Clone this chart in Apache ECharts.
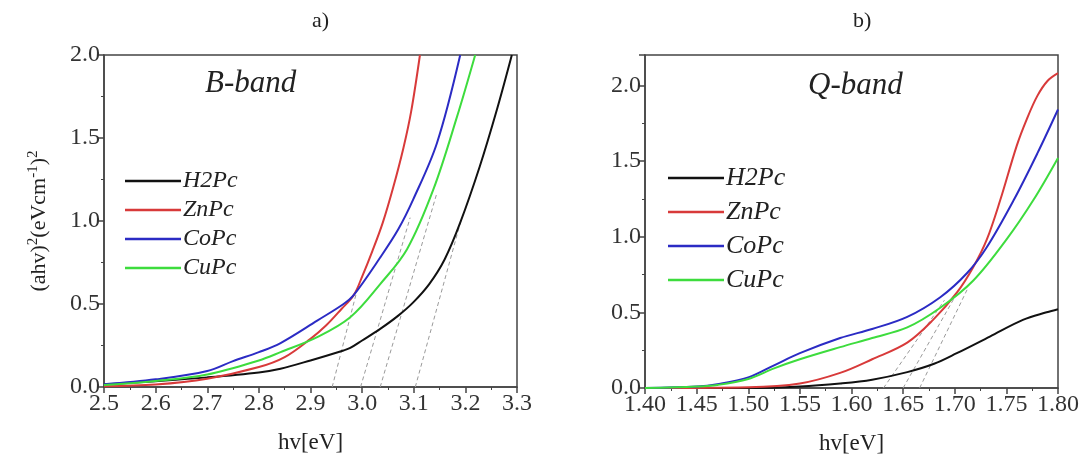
<!DOCTYPE html>
<html>
<head>
<meta charset="utf-8">
<script src="https://cdn.jsdelivr.net/npm/echarts@6/dist/echarts.min.js"></script>
<style>
  html, body { margin: 0; padding: 0; background: #fff; }
  #chart { width: 1083px; height: 461px; }
</style>
</head>
<body>
<div id="chart"></div>
<script>
// panel a) B-band  [hv, (ahv)^2]
var h2pcB = [[2.5,0.015],[2.6,0.035],[2.7,0.058],[2.8,0.088],[2.842,0.11],[2.9,0.16],[2.964,0.22],[2.977,0.235],[3.0,0.28],[3.035,0.35],[3.07,0.43],[3.099,0.51],[3.13,0.62],[3.16,0.77],[3.19,0.99],[3.228,1.33],[3.261,1.67],[3.29,2.0]];
var znpcB = [[2.5,0.005],[2.6,0.015],[2.7,0.05],[2.8,0.12],[2.85,0.18],[2.9,0.29],[2.93,0.37],[2.96,0.47],[2.984,0.555],[3.0,0.665],[3.02,0.82],[3.04,0.99],[3.06,1.2],[3.08,1.44],[3.095,1.66],[3.112,2.0]];
var copcB = [[2.5,0.016],[2.6,0.046],[2.7,0.096],[2.75,0.156],[2.8,0.21],[2.842,0.265],[2.913,0.4],[2.964,0.5],[2.984,0.555],[3.035,0.78],[3.07,0.95],[3.099,1.13],[3.145,1.47],[3.19,2.0]];
var cupcB = [[2.5,0.012],[2.6,0.036],[2.7,0.075],[2.8,0.16],[2.842,0.21],[2.913,0.3],[2.977,0.42],[3.035,0.62],[3.087,0.83],[3.138,1.19],[3.184,1.63],[3.219,2.0]];
var tangentsB = [
  [[2.942,0],[2.99,0.58]],
  [[2.997,0],[3.093,1.02]],
  [[3.035,0],[3.145,1.17]],
  [[3.103,0],[3.193,1.02]]
];

// panel b) Q-band
var h2pcQ = [[1.40,0],[1.50,0.0],[1.55,0.01],[1.589,0.03],[1.62,0.055],[1.654,0.105],[1.68,0.16],[1.702,0.23],[1.734,0.34],[1.766,0.45],[1.789,0.5],[1.80,0.52]];
var znpcQ = [[1.40,0],[1.50,0.005],[1.55,0.03],[1.589,0.1],[1.62,0.19],[1.654,0.3],[1.679,0.45],[1.702,0.63],[1.718,0.8],[1.731,0.98],[1.744,1.24],[1.76,1.6],[1.77,1.78],[1.78,1.93],[1.79,2.03],[1.80,2.08]];
var copcQ = [[1.40,0],[1.45,0.01],[1.47,0.025],[1.50,0.07],[1.525,0.15],[1.55,0.23],[1.589,0.33],[1.62,0.39],[1.654,0.47],[1.686,0.6],[1.712,0.76],[1.731,0.93],[1.757,1.24],[1.78,1.55],[1.80,1.84]];
var cupcQ = [[1.40,0],[1.45,0.01],[1.47,0.02],[1.50,0.06],[1.525,0.13],[1.55,0.19],[1.589,0.27],[1.62,0.33],[1.654,0.4],[1.686,0.53],[1.718,0.71],[1.75,0.98],[1.776,1.24],[1.80,1.52]];
var tangentsQ = [
  [[1.631,0],[1.69,0.58]],
  [[1.650,0],[1.70,0.6]],
  [[1.666,0],[1.712,0.65]]
];

var names = ['H2Pc', 'ZnPc', 'CoPc', 'CuPc'];
var colors = ['#111111', '#d83a3a', '#2b2bc4', '#3ddc3d'];

var serif = '"Liberation Serif", "DejaVu Serif", serif';
var axisCol = '#444';

function xAxisOf(idx, min, max, step, dec) {
  return {
    gridIndex: idx, type: 'value', min: min, max: max, interval: step,
    name: 'hv[eV]', nameLocation: 'middle', nameGap: 44,
    nameTextStyle: { fontFamily: serif, fontSize: 23, color: '#222' },
    axisLine: { onZero: false, lineStyle: { color: axisCol, width: 1.5 } },
    axisTick: { length: 6, lineStyle: { color: axisCol, width: 1.5 } },
    minorTick: { show: true, splitNumber: 2, length: 3, lineStyle: { color: axisCol } },
    splitLine: { show: false },
    axisLabel: { fontFamily: serif, fontSize: 24, color: '#333', margin: 5,
      formatter: function (v) { return v.toFixed(dec); } }
  };
}
function yAxisOf(idx, max, withName) {
  var ax = {
    gridIndex: idx, type: 'value', min: 0, max: max, interval: 0.5,
    axisLine: { show: true, lineStyle: { color: axisCol, width: 1.5 } },
    axisTick: { show: true, length: 6, lineStyle: { color: axisCol, width: 1.5 } },
    minorTick: { show: true, splitNumber: 2, length: 3, lineStyle: { color: axisCol } },
    splitLine: { show: false },
    axisLabel: { fontFamily: serif, fontSize: 24, color: '#333', margin: 4, showMaxLabel: max === 2.0,
      formatter: function (v) { return v.toFixed(1); } }
  };
  if (withName) {
    ax.name = '(ahv){s|2}(eVcm{s|-1}){s|2}';
    ax.nameLocation = 'middle';
    ax.nameGap = 52;
    ax.nameTextStyle = {
      fontFamily: serif, fontSize: 22, color: '#222', lineHeight: 26,
      rich: { s: { fontFamily: serif, fontSize: 15, verticalAlign: 'top', lineHeight: 26 } }
    };
  }
  return ax;
}

var series = [];
function addPanel(idx, curves, tangents) {
  tangents.forEach(function (t) {
    series.push({ type: 'line', xAxisIndex: idx, yAxisIndex: idx, data: t, symbol: 'none',
      silent: true, lineStyle: { color: '#9a9a9a', width: 1, type: [4, 3] }, z: 1 });
  });
  curves.forEach(function (c, i) {
    series.push({ name: names[i], type: 'line', xAxisIndex: idx, yAxisIndex: idx, data: c,
      symbol: 'none', smooth: 0.35,
      lineStyle: { color: colors[i], width: 2 }, itemStyle: { color: colors[i] }, z: 3 });
  });
}
addPanel(0, [h2pcB, znpcB, copcB, cupcB], tangentsB);
addPanel(1, [h2pcQ, znpcQ, copcQ, cupcQ], tangentsQ);

function legendOf(left, top, gap, size) {
  return {
    data: names, orient: 'vertical', left: left, top: top, icon: 'rect',
    itemWidth: 56, itemHeight: 2.5, itemGap: gap, selectedMode: false,
    textStyle: { fontFamily: serif, fontStyle: 'italic', fontSize: size, color: '#222', padding: [0, 0, 0, -3] }
  };
}

var chart = echarts.init(document.getElementById('chart'));
chart.setOption({
  animation: false,
  backgroundColor: '#fff',
  grid: [
    { left: 104, top: 55, width: 413, height: 332, show: true, borderColor: axisCol, borderWidth: 1.5 },
    { left: 645, top: 55, width: 413, height: 333, show: true, borderColor: axisCol, borderWidth: 1.5 }
  ],
  xAxis: [xAxisOf(0, 2.5, 3.3, 0.1, 1), xAxisOf(1, 1.4, 1.8, 0.05, 2)],
  yAxis: [yAxisOf(0, 2.0, true), yAxisOf(1, 2.2, false)],
  legend: [legendOf(120, 164, 5, 24), legendOf(663, 160, 8, 26)],
  graphic: [
    { type: 'text', left: 312, top: 10, style: { text: 'a)', font: '22px ' + serif, fill: '#222' } },
    { type: 'text', left: 853, top: 10, style: { text: 'b)', font: '22px ' + serif, fill: '#222' } },
    { type: 'text', left: 205, top: 68, style: { text: 'B-band', font: 'italic 31px ' + serif, fill: '#222' } },
    { type: 'text', left: 808, top: 70, style: { text: 'Q-band', font: 'italic 31px ' + serif, fill: '#222' } }
  ],
  series: series
});
</script>
</body>
</html>
